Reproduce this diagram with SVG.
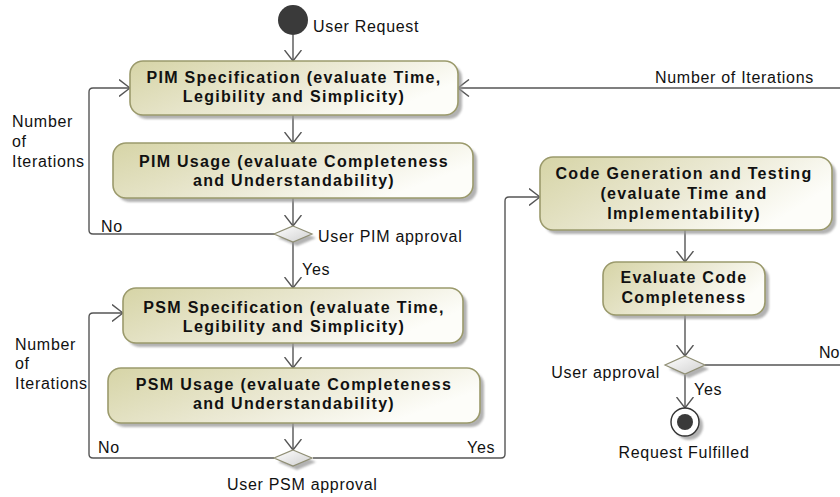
<svg xmlns="http://www.w3.org/2000/svg" width="840" height="497" viewBox="0 0 840 497">
<defs>
<linearGradient id="boxg" x1="0" y1="0" x2="1" y2="0.4">
<stop offset="0" stop-color="#d6d4a6"/>
<stop offset="0.6" stop-color="#ecead6"/>
<stop offset="1" stop-color="#fdfdf9"/>
</linearGradient>
<linearGradient id="diag" x1="0" y1="0" x2="1" y2="1">
<stop offset="0" stop-color="#ffffff"/>
<stop offset="1" stop-color="#d0d0d0"/>
</linearGradient>
<filter id="sh" x="-10%" y="-10%" width="130%" height="140%">
<feGaussianBlur stdDeviation="1.2"/>
</filter>
<marker id="arr" viewBox="0 0 12 18" refX="11.5" refY="9" markerWidth="12" markerHeight="18" markerUnits="userSpaceOnUse" orient="auto">
<path d="M0.5,0.5 L11.5,9 L0.5,17.5" fill="none" stroke="#555" stroke-width="1.4"/>
</marker>
</defs>
<style>
.box{fill:url(#boxg);stroke:#9b9a6c;stroke-width:1.6}
.shadow{fill:#999;opacity:0.75;filter:url(#sh)}
.bt{font-family:"Liberation Sans",Arial,sans-serif;font-size:16px;font-weight:bold;fill:#111;text-anchor:middle;letter-spacing:1.3px}
.lb{font-family:"Liberation Sans",Arial,sans-serif;font-size:16px;fill:#111;letter-spacing:0.7px}
.conn{fill:none;stroke:#555;stroke-width:1.4}
.dia{fill:url(#diag);stroke:#8f8e74;stroke-width:1.2}
</style>

<g id="connectors">
<path class="conn" d="M293,35 L293,61" marker-end="url(#arr)"/>
<path class="conn" d="M293,115 L293,143" marker-end="url(#arr)"/>
<path class="conn" d="M293,198 L293,226" marker-end="url(#arr)"/>
<path class="conn" d="M275,234 L93,234 Q89,234 89,230 L89,92 Q89,88 93,88 L130,88" marker-end="url(#arr)"/>
<path class="conn" d="M293,242 L293,288" marker-end="url(#arr)"/>
<path class="conn" d="M293,343 L293,368" marker-end="url(#arr)"/>
<path class="conn" d="M293,423 L293,450" marker-end="url(#arr)"/>
<path class="conn" d="M274,458 L93,458 Q89,458 89,454 L89,317 Q89,313 93,313 L123,313" marker-end="url(#arr)"/>
<path class="conn" d="M313,458 L501,458 Q505,458 505,454 L505,201 Q505,197 509,197 L540,197" marker-end="url(#arr)"/>
<path class="conn" d="M685,230 L685,262" marker-end="url(#arr)"/>
<path class="conn" d="M685,315 L685,356" marker-end="url(#arr)"/>
<path class="conn" d="M705,365 L850,365 L850,88 L458,88" marker-end="url(#arr)"/>
<path class="conn" d="M685,375 L685,408" marker-end="url(#arr)"/>
</g>

<g id="start">
<circle cx="293" cy="20" r="15" fill="#3a3a3a"/>
<text class="lb" x="313" y="32">User Request</text>
</g>

<g id="pim-spec">
<rect class="shadow" x="134" y="65" width="328" height="54" rx="13"/>
<rect class="box" x="130" y="61" width="328" height="54" rx="13"/>
<text class="bt" x="294" y="83">PIM Specification (evaluate Time,</text>
<text class="bt" x="294" y="102">Legibility and Simplicity)</text>
</g>

<g id="pim-usage">
<rect class="shadow" x="117" y="147" width="360" height="55" rx="13"/>
<rect class="box" x="113" y="143" width="360" height="55" rx="13"/>
<text class="bt" x="294" y="167">PIM Usage (evaluate Completeness</text>
<text class="bt" x="294" y="186">and Understandability)</text>
</g>

<g id="pim-decision">
<polygon class="shadow" points="297,230 316,238 297,246 278,238"/>
<polygon class="dia" points="293,226 312,234 293,242 274,234"/>
<text class="lb" x="318" y="242">User PIM approval</text>
<text class="lb" x="101" y="232">No</text>
<text class="lb" x="302" y="275">Yes</text>
<text class="lb" x="12" y="127">Number</text>
<text class="lb" x="12" y="147">of</text>
<text class="lb" x="12" y="167">Iterations</text>
</g>

<g id="psm-spec">
<rect class="shadow" x="127" y="292" width="340" height="55" rx="13"/>
<rect class="box" x="123" y="288" width="340" height="55" rx="13"/>
<text class="bt" x="294" y="313">PSM Specification (evaluate Time,</text>
<text class="bt" x="294" y="332">Legibility and Simplicity)</text>
</g>

<g id="psm-usage">
<rect class="shadow" x="112" y="372" width="372" height="55" rx="13"/>
<rect class="box" x="108" y="368" width="372" height="55" rx="13"/>
<text class="bt" x="294" y="390">PSM Usage (evaluate Completeness</text>
<text class="bt" x="294" y="409">and Understandability)</text>
</g>

<g id="psm-decision">
<polygon class="shadow" points="297,454 316,462 297,470 278,462"/>
<polygon class="dia" points="293,450 312,458 293,466 274,458"/>
<text class="lb" x="227" y="490">User PSM approval</text>
<text class="lb" x="98" y="453">No</text>
<text class="lb" x="467" y="453">Yes</text>
<text class="lb" x="15" y="350">Number</text>
<text class="lb" x="15" y="369">of</text>
<text class="lb" x="15" y="389">Iterations</text>
</g>

<g id="code-gen">
<rect class="shadow" x="544" y="161" width="292" height="73" rx="13"/>
<rect class="box" x="540" y="157" width="292" height="73" rx="13"/>
<text class="bt" x="684" y="179">Code Generation and Testing</text>
<text class="bt" x="684" y="199">(evaluate Time and</text>
<text class="bt" x="684" y="219">Implementability)</text>
</g>

<g id="eval-code">
<rect class="shadow" x="607" y="266" width="162" height="53" rx="13"/>
<rect class="box" x="603" y="262" width="162" height="53" rx="13"/>
<text class="bt" x="684" y="283">Evaluate Code</text>
<text class="bt" x="684" y="303">Completeness</text>
</g>

<g id="code-decision">
<polygon class="shadow" points="689,360 709,369 689,378 669,369"/>
<polygon class="dia" points="685,356 705,365 685,374 665,365"/>
<text class="lb" x="660" y="378" text-anchor="end">User approval</text>
<text x="819" y="358" style="font-family:'Liberation Sans',Arial,sans-serif;font-size:16px;fill:#111">No</text>
<text class="lb" x="694" y="395">Yes</text>
<text class="lb" x="655" y="83">Number of Iterations</text>
</g>

<g id="end">
<circle cx="689" cy="426" r="14" fill="#999" opacity="0.75" filter="url(#sh)"/>
<circle cx="685" cy="422" r="14" fill="#fff" stroke="#333" stroke-width="1.4"/>
<circle cx="685" cy="422" r="8" fill="#3a3a3a"/>
<text class="lb" x="684" y="458" text-anchor="middle">Request Fulfilled</text>
</g>
</svg>
